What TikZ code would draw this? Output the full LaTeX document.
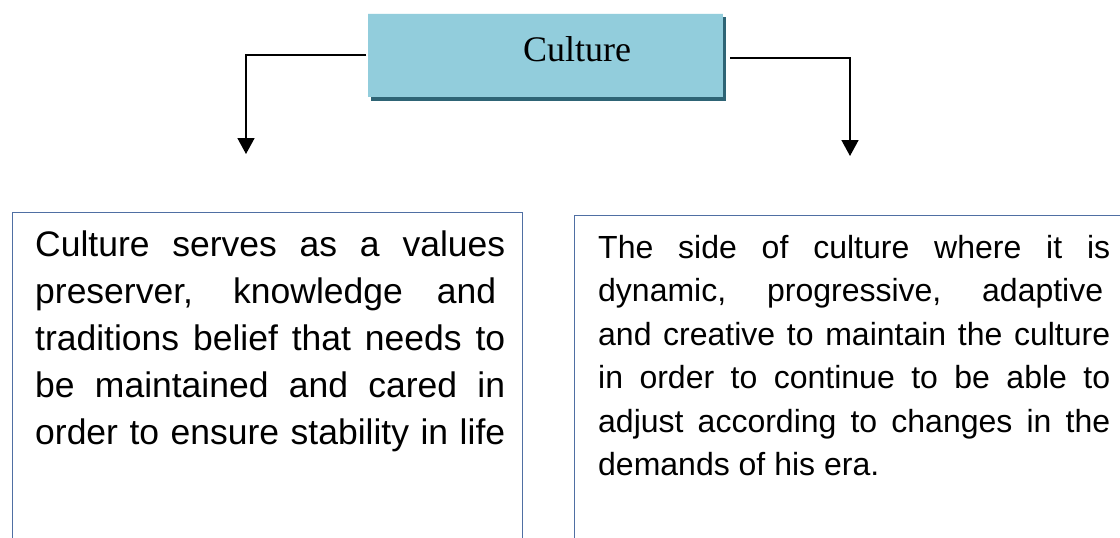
\documentclass[tikz,border=0pt]{standalone}
\usepackage{fontspec}
\setmainfont{Liberation Sans}
\newfontfamily\serifcult{Liberation Serif}
\usetikzlibrary{arrows.meta,calc}
\definecolor{cultfill}{HTML}{92CDDC}
\definecolor{cultshadow}{HTML}{2E6475}
\definecolor{boxline}{HTML}{4F6FA3}
\newcommand\jline[2]{\makebox[#1][s]{#2}}
\tikzset{
  topbox/.style={draw=none, fill=cultfill, minimum width=355pt, minimum height=84pt, inner sep=0pt, anchor=north west},
  shadowbox/.style={fill=cultshadow, draw=none, minimum width=355pt, minimum height=84pt, inner sep=0pt, anchor=north west},
  textbox/.style={draw=boxline, line width=1.3pt, inner sep=0pt, anchor=north west, minimum height=400pt},
  bodytext/.style={inner sep=0pt, anchor=north west, align=left, font=\fontsize{32}{47}\selectfont},
  conn/.style={line width=1.6pt, -{Triangle[width=17pt,length=16pt]}},
}
\begin{document}
\begin{tikzpicture}[x=1pt,y=-1pt]
\useasboundingbox (0,0) rectangle (1120,538);
\clip (0,0) rectangle (1120,538);
\fill[white] (0,0) rectangle (1120,538);
% Culture box with shadow
\node[shadowbox] (cshadow) at (371,17) {};
\node[topbox] (cult) at (368,13) {};
\draw[white!85!cultfill, line width=1pt] ($(cult.north west)+(0,0.5)$) -- ($(cult.north east)+(0,0.5)$);
\node[font=\serifcult\fontsize{36}{38}\selectfont, inner sep=0pt] (culttext) at (577,49) {Culture};
% arrow end points
\coordinate (ls) at ($(cult.north west)+(-2,42)$);
\coordinate (lc) at (246,55);
\coordinate (le) at (246,154);
\coordinate (rs) at ($(cult.north east)+(7,45)$);
\coordinate (rc) at (850,58);
\coordinate (re) at (850,156);
\draw[conn] (ls) -- (lc) -- (le);
\draw[conn] (rs) -- (rc) -- (re);
% text boxes
\node[textbox, minimum width=510pt] (lbox) at (12,212) {};
\node[textbox, minimum width=600pt] (rbox) at (574,215) {};
\node[bodytext, font=\fontsize{35.5}{47}\selectfont] (ltext) at (35,231) {%
\jline{470pt}{Culture serves as a values}\\
\jline{461pt}{preserver, knowledge and}\\
\jline{470pt}{traditions belief that needs to}\\
\jline{470pt}{be maintained and cared in}\\
\jline{470pt}{order to ensure stability in life}};
\node[bodytext, font=\fontsize{32}{43.5}\selectfont] (rtext) at (598,235) {%
\jline{512pt}{The side of culture where it is}\\
\jline{505pt}{dynamic, progressive, adaptive}\\
\jline{512pt}{and creative to maintain the culture}\\
\jline{512pt}{in order to continue to be able to}\\
\jline{512pt}{adjust according to changes in the}\\
demands of his era.};
\end{tikzpicture}
\end{document}
